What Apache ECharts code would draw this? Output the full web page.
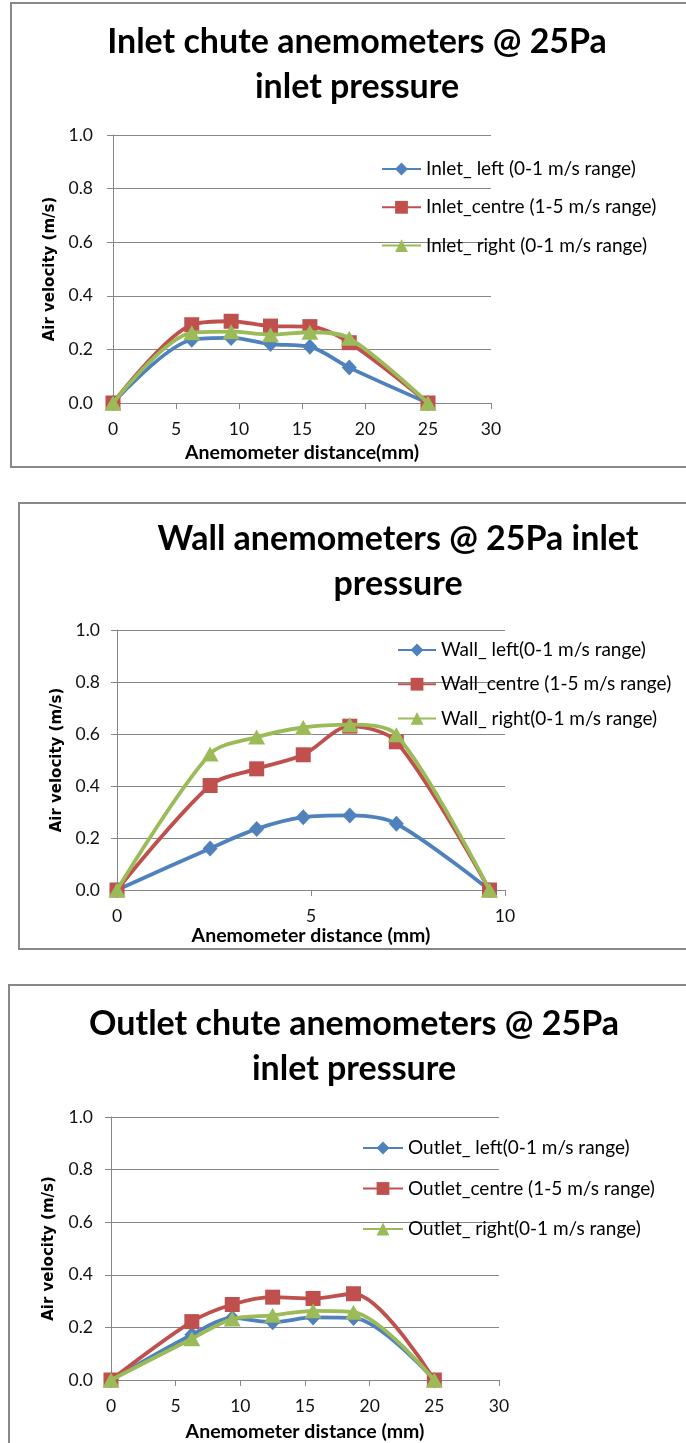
<!DOCTYPE html>
<html>
<head>
<meta charset="utf-8">
<script src="https://cdn.jsdelivr.net/npm/echarts@6/dist/echarts.min.js"></script>
<style>
  html, body { margin: 0; padding: 0; background: #ffffff; }
  #chart { width: 686px; height: 1443px; }
</style>
</head>
<body>
<div id="chart"></div>
<script>
// ---- Data ----
const inletX = [0, 6.25, 9.375, 12.5, 15.625, 18.75, 25];
const inletLeft = [0, 0.236, 0.243, 0.22, 0.21, 0.132, 0];
const inletCentre = [0, 0.292, 0.305, 0.287, 0.285, 0.225, 0];
const inletRight = [0, 0.262, 0.266, 0.255, 0.264, 0.242, 0];

const wallX = [0, 2.4, 3.6, 4.8, 6.0, 7.2, 9.6];
const wallLeft = [0, 0.16, 0.235, 0.28, 0.287, 0.255, 0];
const wallCentre = [0, 0.402, 0.466, 0.52, 0.63, 0.57, 0];
const wallRight = [0, 0.523, 0.588, 0.625, 0.636, 0.597, 0];

const outletX = [0, 6.25, 9.375, 12.5, 15.625, 18.75, 25];
const outletLeft = [0, 0.172, 0.236, 0.22, 0.238, 0.236, 0];
const outletCentre = [0, 0.222, 0.287, 0.315, 0.31, 0.328, 0];
const outletRight = [0, 0.157, 0.232, 0.246, 0.263, 0.258, 0];

const titles = [
  'Inlet chute anemometers @ 25Pa\ninlet pressure',
  'Wall anemometers @ 25Pa inlet\npressure',
  'Outlet chute anemometers @ 25Pa\ninlet pressure'
];
const xNames = ['Anemometer distance(mm)', 'Anemometer distance (mm)', 'Anemometer distance (mm)'];
const yName = 'Air velocity (m/s)';
const inletNames = ['Inlet_ left (0-1 m/s range)', 'Inlet_centre (1-5 m/s range)', 'Inlet_ right (0-1 m/s range)'];
const wallNames = ['Wall_ left(0-1 m/s range)', 'Wall_centre (1-5 m/s range)', 'Wall_ right(0-1 m/s range)'];
const outletNames = ['Outlet_ left(0-1 m/s range)', 'Outlet_centre (1-5 m/s range)', 'Outlet_ right(0-1 m/s range)'];
const xMax = [30, 10, 30];
const xInterval = [5, 5, 5];

// ---- Styles ----
const FONT = 'Lato';
const GRID_C = '#878787';
const COLORS = ['#4F81BD', '#C0504D', '#9BBB59'];
const SYMBOLS = ['diamond', 'rect', 'triangle'];
const SYMSIZE = [[15, 16], [15, 15], [17, 15]];

const grids = [
  { left: 113, top: 135, width: 378, height: 268 },
  { left: 117, top: 630, width: 388, height: 260 },
  { left: 111, top: 1117, width: 388, height: 264 }
];
const xNameGap = [40, 35, 42];
const yNameGap = [54, 51, 54];
const yLabelMargin = [20, 17, 18];
const titlePos = [{ x: 357, y: 20 }, { x: 398, y: 517 }, { x: 354, y: 1002 }];
const legendPos = [
  { left: 381, top: 159, gap: 18.3, w: 39 },
  { left: 397, top: 640, gap: 14.2, w: 38 },
  { left: 362, top: 1138, gap: 20.5, w: 40 }
];
const boxes = [
  { x: 11, y: 3, h: 464 },
  { x: 19, y: 503, h: 446 },
  { x: 9, y: 985, h: 500 }
];

function pairs(xs, ys) { return xs.map((x, i) => [x, ys[i]]); }

const seriesSets = [
  [inletX, [inletLeft, inletCentre, inletRight], inletNames],
  [wallX, [wallLeft, wallCentre, wallRight], wallNames],
  [outletX, [outletLeft, outletCentre, outletRight], outletNames]
];

const option = {
  backgroundColor: '#ffffff',
  animation: false,
  title: titlePos.map((p, i) => ({
    text: titles[i],
    left: p.x, top: p.y, padding: 0,
    textAlign: 'center',
    textStyle: { fontFamily: FONT, fontWeight: 'bold', fontSize: 34, lineHeight: 45, color: '#000' }
  })),
  legend: legendPos.map((p, i) => ({
    orient: 'vertical',
    left: p.left, top: p.top, padding: 0,
    itemGap: p.gap, itemWidth: p.w, itemHeight: 16,
    data: seriesSets[i][2],
    textStyle: { fontFamily: FONT, fontSize: 19, lineHeight: 20, color: '#000' }
  })),
  grid: grids,
  xAxis: grids.map((g, i) => ({
    type: 'value', gridIndex: i, min: 0, max: xMax[i], interval: xInterval[i],
    name: xNames[i], nameLocation: 'middle', nameGap: xNameGap[i],
    nameTextStyle: { fontFamily: FONT, fontWeight: 'bold', fontSize: 19.5, color: '#000' },
    axisLine: { show: true, onZero: false, lineStyle: { color: GRID_C, width: 1 } },
    axisTick: { show: true, length: 6, lineStyle: { color: GRID_C } },
    axisLabel: { margin: 17, fontFamily: FONT, fontSize: 17.5, color: '#111' },
    splitLine: { show: false }
  })),
  yAxis: grids.map((g, i) => ({
    type: 'value', gridIndex: i, min: 0, max: 1, interval: 0.2,
    name: yName, nameLocation: 'middle', nameGap: yNameGap[i],
    nameTextStyle: { fontFamily: 'DejaVu Sans', fontWeight: 'bold', fontSize: 15, color: '#000' },
    axisLine: { show: true, lineStyle: { color: GRID_C, width: 1 } },
    axisTick: { show: true, length: 6, lineStyle: { color: GRID_C } },
    axisLabel: { margin: yLabelMargin[i], fontFamily: FONT, fontSize: 17.5, color: '#111', formatter: v => v.toFixed(1) },
    splitLine: { show: true, lineStyle: { color: GRID_C, width: 1 } }
  })),
  graphic: boxes.map(b => ({
    type: 'rect', silent: true, z: -1,
    shape: { x: b.x, y: b.y, width: 800, height: b.h },
    style: { fill: 'none', stroke: '#888888', lineWidth: 2 }
  })),
  series: []
};

seriesSets.forEach((set, gi) => {
  const xs = set[0];
  set[1].forEach((ys, si) => {
    option.series.push({
      type: 'line', name: set[2][si],
      xAxisIndex: gi, yAxisIndex: gi,
      data: pairs(xs, ys),
      smooth: 0.3,
      symbol: SYMBOLS[si], symbolSize: SYMSIZE[si],
      showAllSymbol: true,
      lineStyle: { color: COLORS[si], width: 3.8 },
      itemStyle: { color: COLORS[si] },
      z: 2 + si
    });
  });
});

const chart = echarts.init(document.getElementById('chart'), null, { renderer: 'canvas' });
chart.setOption(option);
</script>
</body>
</html>
